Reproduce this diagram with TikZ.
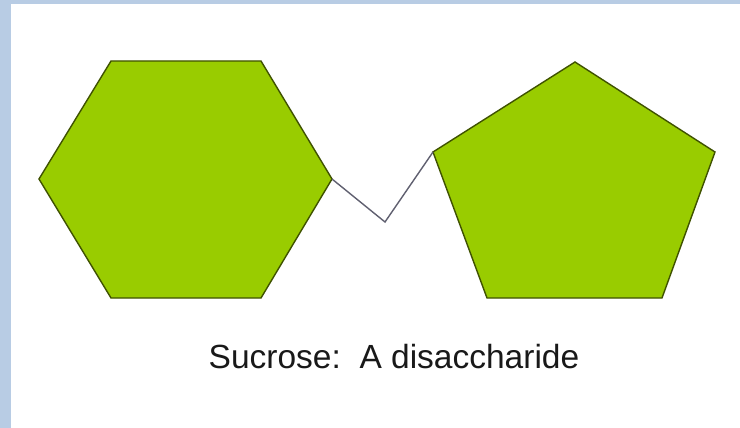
\documentclass[tikz,border=0pt]{standalone}
\usepackage{fontspec}
\setmainfont{Liberation Sans}
\definecolor{slidebg}{HTML}{B8CCE4}
\definecolor{ringfill}{HTML}{99CC00}
\definecolor{ringline}{HTML}{3F5200}
\definecolor{linkgray}{HTML}{606070}
\begin{document}
\begin{tikzpicture}[x=1pt,y=-1pt,
  ring/.style={fill=ringfill,draw=ringline,line width=1.4pt,line join=miter},
  linker/.style={draw=linkgray,line width=1.4pt}]
\useasboundingbox (0,0) rectangle (740,428);
\fill[slidebg] (0,0) rectangle (740,428);
\fill[white] (11,4) rectangle (740,428);
% hexagon
\coordinate (h1) at (111,61);
\coordinate (h2) at (261,61);
\coordinate (h3) at (332,179);
\coordinate (h4) at (261,298);
\coordinate (h5) at (111,298);
\coordinate (h6) at (39,179);
\draw[ring] (h1) -- (h2) -- (h3) -- (h4) -- (h5) -- (h6) -- cycle;
% pentagon
\coordinate (p1) at (575,62);
\coordinate (p2) at (715,152);
\coordinate (p3) at (662,298);
\coordinate (p4) at (487,298);
\coordinate (p5) at (433,152);
\draw[ring] (p1) -- (p2) -- (p3) -- (p4) -- (p5) -- cycle;
% glycosidic link
\coordinate (o) at (385,222);
\draw[linker] (h3) -- (o) -- (p5);
\node[font=\fontsize{33.5}{38}\selectfont,text=black!90] (cap) at (394,357) {Sucrose:\ \ A disaccharide};
\end{tikzpicture}
\end{document}
